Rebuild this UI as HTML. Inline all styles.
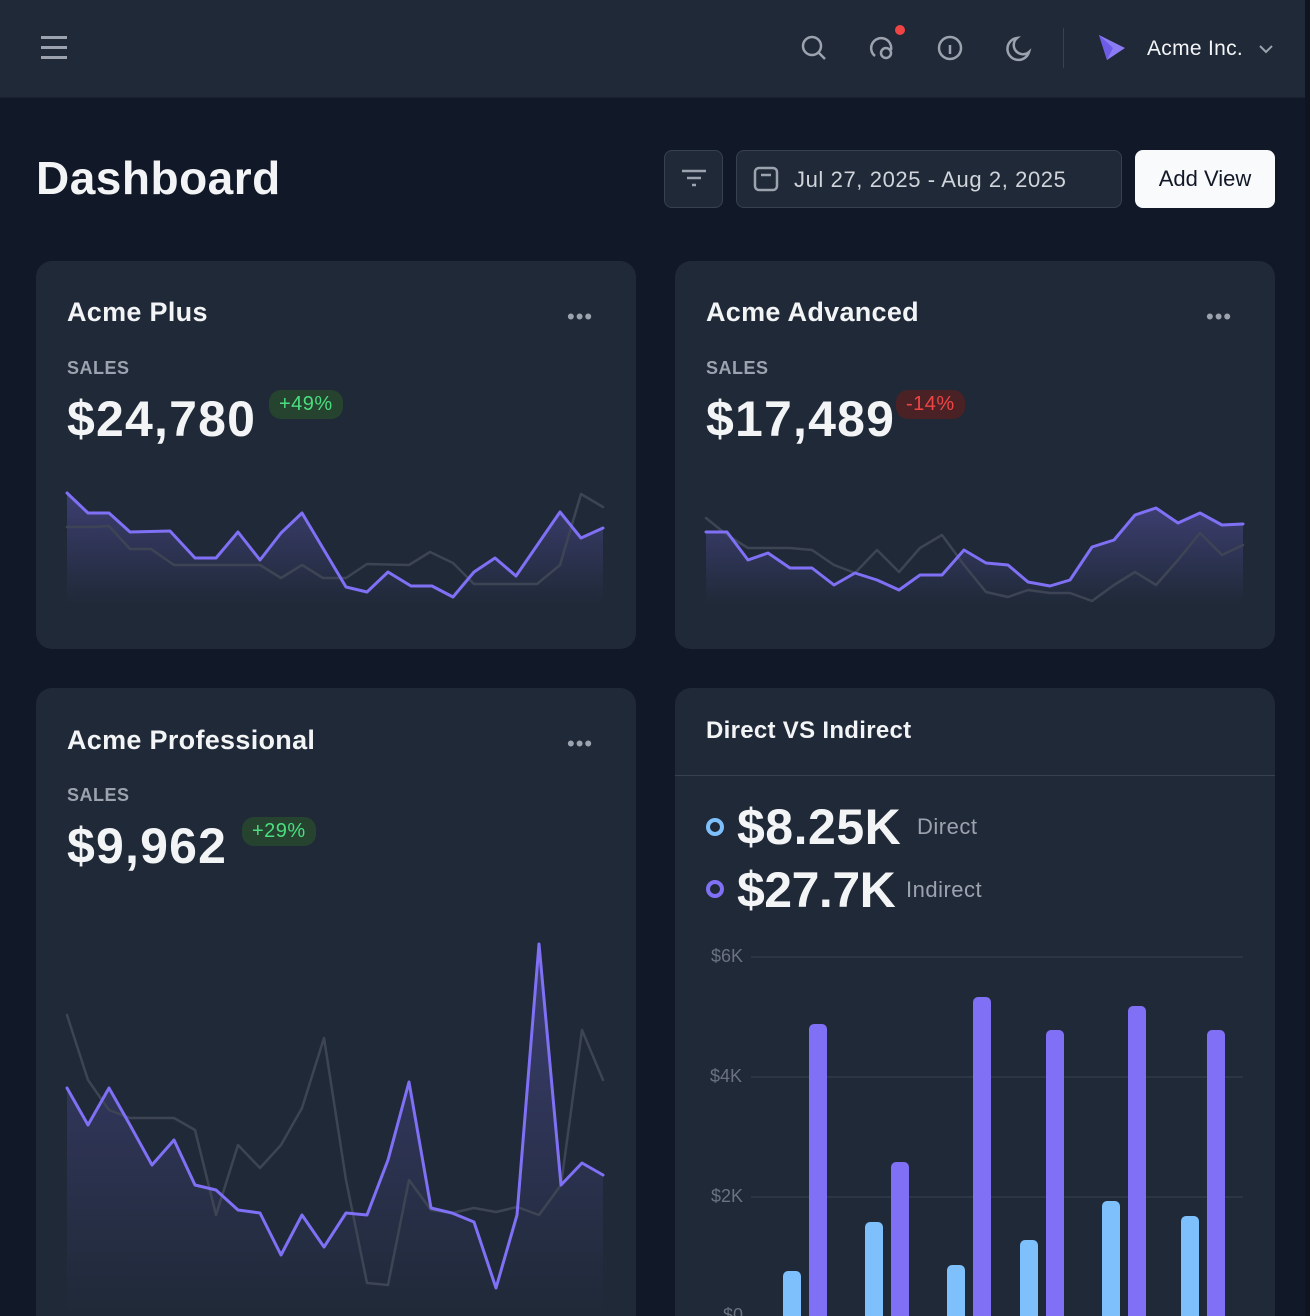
<!DOCTYPE html>
<html style="width:1310px;height:1316px;overflow:hidden"><head><meta charset="utf-8"><style>
*{margin:0;padding:0;box-sizing:border-box}
body{width:1310px;height:1316px;overflow:hidden;background:#111827;font-family:"Liberation Sans",sans-serif;color:#f3f4f6;position:relative}
.a{position:absolute}
.hdr{left:0;top:0;width:1310px;height:98px;background:#1f2937;border-bottom:1px solid #1a2230}
.card{background:#1f2937;border-radius:16px}
.t{font-size:27px;font-weight:bold;color:#f3f4f6;letter-spacing:.3px}
.lbl{font-size:18px;font-weight:bold;color:#9ca3af;letter-spacing:.5px}
.big{font-size:50px;font-weight:bold;color:#f3f4f6;letter-spacing:1.2px}
.badge{font-size:20px;padding:3px 10px;border-radius:12px;letter-spacing:.5px}
.dots{font-size:22px;color:#9ca3af;letter-spacing:1px}
.yl{font-size:18px;color:#6b7280}
</style></head><body>
<div class="a hdr"></div>
<div class="a" style="left:41px;top:36px;width:26px;height:3px;background:#9ca3af;box-shadow:0 10px 0 #9ca3af,0 20px 0 #9ca3af"></div>
<svg class="a" style="left:795px;top:28px" width="300" height="40" fill="none" stroke="#9ca3af" stroke-width="2.5">
<circle cx="17" cy="18" r="9"/><line x1="24" y1="25" x2="30" y2="31"/>
<path d="M80 28a10 10 0 1 1 16-6"/><circle cx="91" cy="25" r="5"/>
<circle cx="155" cy="20" r="11"/><line x1="155" y1="17" x2="155" y2="26"/>
<path d="M222 10a11 11 0 1 0 12 14a9 9 0 0 1-12-14z"/>
</svg>
<div class="a" style="left:895px;top:25px;width:10px;height:10px;border-radius:5px;background:#ef4444"></div>
<div class="a" style="left:1063px;top:28px;width:1px;height:40px;background:#374151"></div>
<svg class="a" style="left:1097px;top:33px" width="30" height="30"><polygon points="2,2 28,15 10,27" fill="#8b7cf6"/><polygon points="2,2 16,15 10,27" fill="#6d5ce6"/></svg>
<div class="a" style="left:1147px;top:37px;font-size:21px;color:#f3f4f6;letter-spacing:.3px">Acme Inc.</div>
<svg class="a" style="left:1257px;top:43px" width="18" height="12" fill="none" stroke="#9ca3af" stroke-width="2"><path d="M3 3l6 6 6-6"/></svg>

<div class="a" style="left:36px;top:151px;font-size:46px;font-weight:bold;letter-spacing:.5px">Dashboard</div>
<div class="a" style="left:664px;top:150px;width:59px;height:58px;border:1px solid #374151;border-radius:8px;background:#1f2937"></div>
<svg class="a" style="left:680px;top:166px" width="28" height="28" stroke="#9ca3af" stroke-width="2.5"><line x1="2" y1="5" x2="26" y2="5"/><line x1="7" y1="12" x2="21" y2="12"/><line x1="12" y1="19" x2="16" y2="19"/></svg>
<div class="a" style="left:736px;top:150px;width:386px;height:58px;border:1px solid #374151;border-radius:8px;background:#1f2937"></div>
<svg class="a" style="left:753px;top:166px" width="28" height="28" fill="none" stroke="#9ca3af" stroke-width="2.5"><rect x="2" y="2" width="22" height="22" rx="4"/><line x1="8" y1="9" x2="18" y2="9"/></svg>
<div class="a" style="left:794px;top:167px;font-size:22px;color:#d1d5db;letter-spacing:.6px">Jul 27, 2025 - Aug 2, 2025</div>
<div class="a" style="left:1135px;top:150px;width:140px;height:58px;border-radius:8px;background:#f9fafb;color:#111827;font-size:22px;text-align:center;line-height:58px">Add View</div>

<div class="a card" style="left:36px;top:261px;width:600px;height:388px"></div>
<div class="a t" style="left:67px;top:297px">Acme Plus</div>
<div class="a dots" style="left:567px;top:304px">•••</div>
<div class="a lbl" style="left:67px;top:358px">SALES</div>
<div class="a big" style="left:67px;top:390px">$24,780</div>
<div class="a badge" style="left:269px;top:390px;background:#25432f;color:#4ade80">+49%</div>
<div class="a card" style="left:675px;top:261px;width:600px;height:388px"></div>
<div class="a t" style="left:706px;top:297px">Acme Advanced</div>
<div class="a dots" style="left:1206px;top:304px">•••</div>
<div class="a lbl" style="left:706px;top:358px">SALES</div>
<div class="a big" style="left:706px;top:390px">$17,489</div>
<div class="a badge" style="left:896px;top:390px;background:#4a2226;color:#ef4444">-14%</div>
<div class="a card" style="left:36px;top:688px;width:600px;height:660px"></div>
<div class="a t" style="left:67px;top:725px">Acme Professional</div>
<div class="a dots" style="left:567px;top:731px">•••</div>
<div class="a lbl" style="left:67px;top:785px">SALES</div>
<div class="a big" style="left:67px;top:817px">$9,962</div>
<div class="a badge" style="left:242px;top:817px;background:#25432f;color:#4ade80">+29%</div>
<div class="a card" style="left:675px;top:688px;width:600px;height:660px"></div>
<div class="a" style="left:675px;top:775px;width:600px;height:1px;background:#374151"></div>
<div class="a" style="left:706px;top:717px;font-size:24px;font-weight:bold;letter-spacing:.3px">Direct VS Indirect</div>
<div class="a" style="left:706px;top:818px;width:18px;height:18px;border-radius:9px;border:4px solid #7dc0fb"></div>
<div class="a" style="left:737px;top:798px;font-size:50px;font-weight:bold;letter-spacing:.5px">$8.25K</div>
<div class="a" style="left:917px;top:814px;font-size:22px;color:#9ca3af;letter-spacing:.5px">Direct</div>
<div class="a" style="left:706px;top:880px;width:18px;height:18px;border-radius:9px;border:4px solid #8070f5"></div>
<div class="a" style="left:737px;top:861px;font-size:50px;font-weight:bold;letter-spacing:-.5px">$27.7K</div>
<div class="a" style="left:906px;top:877px;font-size:22px;color:#9ca3af;letter-spacing:.5px">Indirect</div>

<svg class="a" style="left:0;top:0" width="1310" height="1316">
<defs><linearGradient id="g" x1="0" y1="0" x2="0" y2="1"><stop offset="0" stop-color="#8070f5" stop-opacity=".3"/><stop offset="1" stop-color="#8070f5" stop-opacity="0"/></linearGradient></defs>
<g fill="none" stroke-linejoin="round" stroke-linecap="round">
<path fill="url(#g)" stroke="none" d="M67,493 88,513 109,513 130,532 170,531 195,558 216,558 238,532 260,560 281,533 302,513 346,587 367,592 388,572 411,586 432,586 453,597 474,572 495,558 516,576 560,512 581,538 603,528 603,605 67,605Z"/>
<polyline stroke="#3d4555" stroke-width="2.5" points="67,527 93,527 109,526 130,549 151,549 174,565 260,565 281,578 302,565 323,578 346,578 367,564 409,565 430,552 453,563 474,584 537,584 560,565 581,494 603,507"/>
<polyline stroke="#8070f5" stroke-width="3" points="67,493 88,513 109,513 130,532 170,531 195,558 216,558 238,532 260,560 281,533 302,513 346,587 367,592 388,572 411,586 432,586 453,597 474,572 495,558 516,576 560,512 581,538 603,528"/>
<path fill="url(#g)" stroke="none" d="M706,532 727,532 748,560 768,553 790,568 812,568 834,585 855,573 877,580 899,590 920,575 942,575 964,550 986,563 1008,565 1028,582 1050,586 1070,580 1092,547 1114,540 1135,515 1156,508 1178,523 1200,513 1222,525 1243,524 1243,605 706,605Z"/>
<polyline stroke="#3d4555" stroke-width="2.5" points="706,518 727,535 748,548 790,548 812,550 834,565 855,573 877,550 899,572 920,548 942,535 964,565 986,592 1008,597 1028,590 1050,593 1070,593 1092,601 1114,585 1135,572 1156,585 1178,560 1200,533 1222,555 1243,545"/>
<polyline stroke="#8070f5" stroke-width="3" points="706,532 727,532 748,560 768,553 790,568 812,568 834,585 855,573 877,580 899,590 920,575 942,575 964,550 986,563 1008,565 1028,582 1050,586 1070,580 1092,547 1114,540 1135,515 1156,508 1178,523 1200,513 1222,525 1243,524"/>
<path fill="url(#g)" stroke="none" d="M67,1088 88,1125 109,1088 130,1125 152,1165 174,1140 195,1185 216,1190 238,1210 260,1213 281,1255 302,1215 324,1247 346,1213 367,1215 388,1160 409,1082 431,1208 452,1213 474,1222 496,1288 517,1215 539,944 561,1185 582,1163 603,1175 603,1316 67,1316Z"/>
<polyline stroke="#3d4555" stroke-width="2.5" points="67,1015 88,1080 109,1110 130,1118 174,1118 195,1130 216,1215 238,1145 260,1168 281,1145 302,1108 324,1038 346,1180 367,1283 388,1285 409,1180 431,1210 452,1213 474,1208 496,1212 517,1207 539,1215 561,1185 582,1030 603,1080"/>
<polyline stroke="#8070f5" stroke-width="3" points="67,1088 88,1125 109,1088 130,1125 152,1165 174,1140 195,1185 216,1190 238,1210 260,1213 281,1255 302,1215 324,1247 346,1213 367,1215 388,1160 409,1082 431,1208 452,1213 474,1222 496,1288 517,1215 539,944 561,1185 582,1163 603,1175"/>
</g>
<g stroke="#374151" stroke-width="1"><line x1="751" y1="957" x2="1243" y2="957"/><line x1="751" y1="1077" x2="1243" y2="1077"/><line x1="751" y1="1197" x2="1243" y2="1197"/></g>
<g fill="#7dc0fb">
<rect x="783" y="1271" width="18" height="60" rx="5"/><rect x="865" y="1222" width="18" height="110" rx="5"/><rect x="947" y="1265" width="18" height="60" rx="5"/><rect x="1020" y="1240" width="18" height="90" rx="5"/><rect x="1102" y="1201" width="18" height="130" rx="5"/><rect x="1181" y="1216" width="18" height="120" rx="5"/></g>
<g fill="#8070f5">
<rect x="809" y="1024" width="18" height="300" rx="5"/><rect x="891" y="1162" width="18" height="160" rx="5"/><rect x="973" y="997" width="18" height="330" rx="5"/><rect x="1046" y="1030" width="18" height="300" rx="5"/><rect x="1128" y="1006" width="18" height="320" rx="5"/><rect x="1207" y="1030" width="18" height="300" rx="5"/></g>
</svg>
<div class="a yl" style="left:711px;top:946px">$6K</div>
<div class="a yl" style="left:710px;top:1066px">$4K</div>
<div class="a yl" style="left:711px;top:1186px">$2K</div>
<div class="a yl" style="left:723px;top:1305px">$0</div>
<div class="a" style="left:1305px;top:0;width:5px;height:1316px;background:#0f141f"></div>
</body></html>
